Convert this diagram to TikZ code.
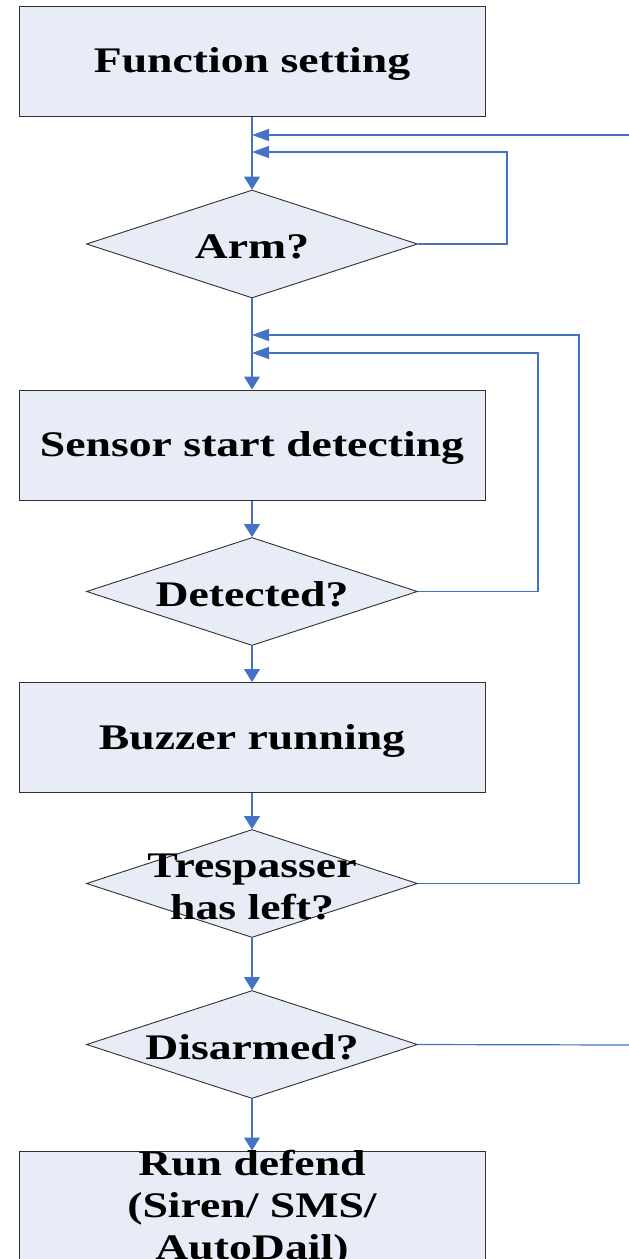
\documentclass[tikz,border=0pt]{standalone}
\usepackage{fontspec}
\setmainfont{Liberation Serif}
\usepackage{graphicx}
\usetikzlibrary{shapes.geometric,arrows.meta}
\definecolor{conn}{HTML}{4472C4}
\definecolor{boxfill}{HTML}{E7ECF7}
\definecolor{boxline}{HTML}{303030}
\newcommand{\wtxt}[1]{\scalebox{1.27}[1]{#1}}
\begin{document}
\begin{tikzpicture}[x=1pt,y=-1pt,
  proc/.style={draw=boxline, fill=boxfill, line width=1pt, rectangle, minimum width=466pt, minimum height=110pt, inner sep=0pt},
  dec/.style={draw=boxline, fill=boxfill, line width=0.9pt, diamond, minimum width=331pt, minimum height=108pt, inner sep=0pt},
  txt/.style={font=\fontsize{36}{42}\selectfont\bfseries, align=center, inner sep=0pt, text=black, yshift=-3pt},
  flow/.style={draw=conn, line width=1.2pt},
  downarrow/.style={flow, -{Triangle[length=13pt,width=16pt]}},
  backarrow/.style={flow, -{Triangle[length=17pt,width=12pt]}},
]
\path[use as bounding box, clip] (0,0) rectangle (629,1259);

% nodes
\node[proc] (fs) at (252,61) {};
\node[txt] (fsT) at (fs.center) {\wtxt{Function setting}};
\node[dec] (arm) at (252,244) {};
\node[txt] (armT) at (arm.center) {\wtxt{Arm?}};
\node[proc] (sensor) at (252,445) {};
\node[txt] (sensorT) at (sensor.center) {\wtxt{Sensor start detecting}};
\node[dec] (det) at (252,591.5) {};
\node[txt] (detT) at (det.center) {\wtxt{Detected?}};
\node[proc] (buzz) at (252,737.5) {};
\node[txt] (buzzT) at (buzz.center) {\wtxt{Buzzer running}};
\node[dec] (tres) at (252,883.5) {};
\node[txt] (tresT) at (tres.center) {\wtxt{Trespasser}\\\wtxt{has left?}};
\node[dec] (dis) at (252,1044.5) {};
\node[txt] (disT) at (dis.center) {\wtxt{Disarmed?}};
\node[proc] (run) at (252,1206) {};
\node[txt] (runT) at (run.center) {\wtxt{Run defend}\\\wtxt{(Siren/ SMS/}\\\wtxt{AutoDail)}};

% junction points and free ends
\coordinate (j1) at (252,135);
\coordinate (j2) at (252,152);
\coordinate (j3) at (252,335);
\coordinate (j4) at (252,353);
\coordinate (e1) at (629,135);
\coordinate (e2) at (629,1045);

% main flow
\draw[downarrow] (fs) -- (arm);
\draw[downarrow] (arm) -- (sensor);
\draw[downarrow] (sensor) -- (det);
\draw[downarrow] (det) -- (buzz);
\draw[downarrow] (buzz) -- (tres);
\draw[downarrow] (tres) -- (dis);
\draw[downarrow] (dis) -- (run);

% loops
\draw[backarrow] (e1) -- (j1);
\draw[backarrow] (arm.east) -- ++(89,0) |- (j2);
\draw[backarrow] (tres.east) -- ++(161,0) |- (j3);
\draw[backarrow] (det.east) -- ++(120,0) |- (j4);
\draw[flow] (dis.east) -- (e2);
\end{tikzpicture}
\end{document}
